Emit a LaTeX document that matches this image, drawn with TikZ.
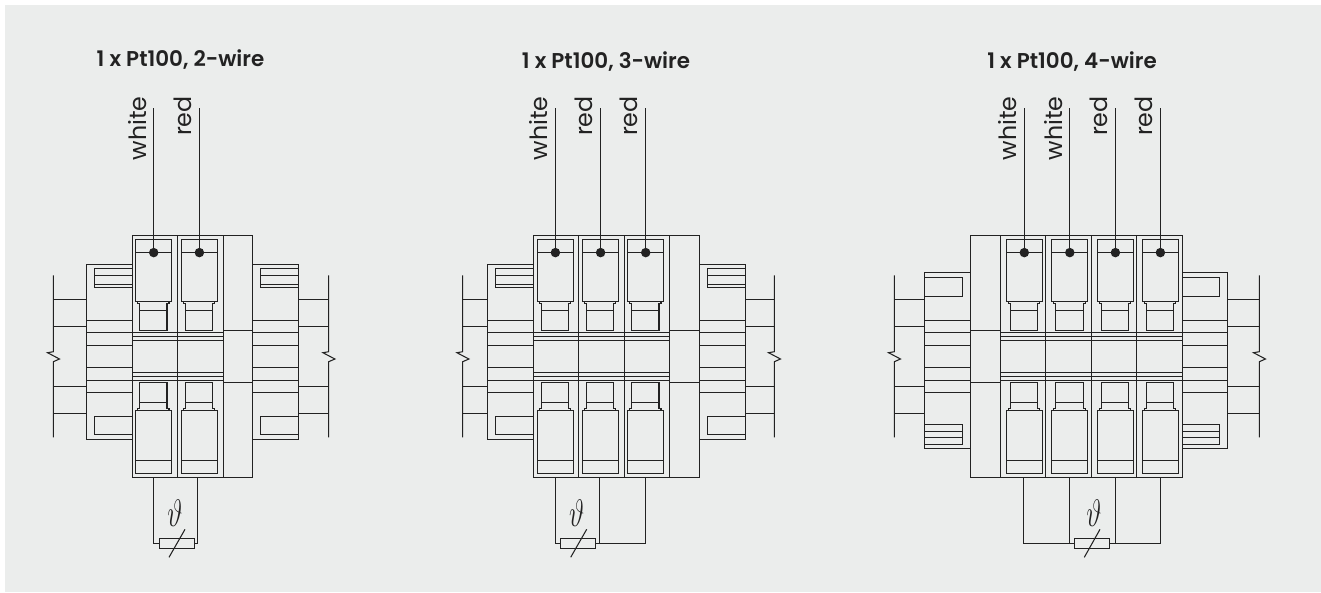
\documentclass[tikz,border=0pt]{standalone}
\usepackage{amsmath,amssymb}
\usepackage{fontspec}
\setmainfont{Poppins}
\newfontfamily\headfont{Poppins SemiBold}
\usetikzlibrary{calc}
\definecolor{panel}{HTML}{EBEDEC}
\definecolor{ink}{HTML}{222222}
\tikzset{
    part/.style={draw=ink,line width=0.6pt},
    tag/.style={rotate=90,anchor=east,inner sep=0pt,font=\fontsize{13.5}{13.5}\selectfont,text=ink},
    head/.style={inner sep=0pt,font=\headfont\fontsize{12.2}{13}\selectfont,text=ink},
    pin/.style={circle,fill=ink,inner sep=0pt,minimum size=5.4pt},
    sensor/.style={draw=ink,line width=0.6pt,fill=panel,inner sep=0pt,minimum width=20pt,minimum height=5.7pt}
}
\newcommand{\thetamark}{\scalebox{0.72}[1.05]{\fontsize{20}{20}\selectfont\(\vartheta\)}}
% one terminal, by the x of its wire
\newcommand{\terminal}[1]{
    \draw[part] (#1-18,239.3) rectangle (#1+18,301.7);
    \draw[part] (#1-18,252.3)--(#1+18,252.3);
    \draw[part] (#1-16,301.7)--(#1-16,303.7)--(#1-14,303.7)--(#1-14,330.4)--(#1+13.3,330.4)--(#1+13.3,303.7)--(#1+15.3,303.7)--(#1+15.3,301.7);
    \draw[part] (#1-14,310.3)--(#1+13.3,310.3);
    \draw[part] (#1-16,410.4)--(#1-16,408.4)--(#1-14,408.4)--(#1-14,382.7)--(#1+13.3,382.7)--(#1+13.3,408.4)--(#1+15.3,408.4)--(#1+15.3,410.4);
    \draw[part] (#1-14,402.3)--(#1+13.3,402.3);
    \draw[part] (#1-18,410.4) rectangle (#1+18,473.3);
    \draw[part] (#1-18,460.3)--(#1+18,460.3);
}
% rail: #1 x of rail, #2 x of wing edge
\newcommand{\rail}[2]{
    \draw[part] (#1,275.3)--(#1,351.7)--(#1-5.8,352.7)--(#1+6.2,359)--(#1,361.7)--(#1,437.3);
    \foreach \y in {299.5,326.4,386.3,413.4}
    {
        \draw[part] (#1,\y)--(#2,\y);
    }
}
% wing: #1 outer x, #2 inner x, #3 top, #4 bottom
\newcommand{\wing}[4]{
    \draw[part] (#2,#3)--(#1,#3)--(#1,#4)--(#2,#4);
    \foreach \y in {320.4,332.7,345.2,367.7,380.3,392.7}
    {
        \draw[part] (#1,\y)--(#2,\y);
    }
}
\begin{document}
\begin{tikzpicture}[x=0.02cm,y=-0.02cm]
    \useasboundingbox (0,0) rectangle (1321,592);
    \fill[panel] (5,5) rectangle (1321,592);

    % 2-wire
    \node[head] (title2) at (180.5,60) {1 x Pt100, 2-wire};
    \foreach \x/\n/\m in {153.7/white/a,199.4/red/b}
    {
        \node[tag] (tag\m) at (\x-16.5,96) {\n};
        \coordinate (top\m) at (\x,108.3);
        \node[pin] (pin\m) at (\x,252.6) {};
        \draw[part] (top\m)--(pin\m);
        \terminal{\x}
    }
    \draw[part] (132.3,235.3) rectangle (252.7,477.4);
    \draw[part] (177.3,235.3)--(177.3,477.4);
    \draw[part] (223.4,235.3)--(223.4,477.4);
    \draw[part] (223.4,330.4)--(252.7,330.4);
    \draw[part] (223.4,382.7)--(252.7,382.7);
    \foreach \y in {332.3,336.3,340.4,372.3,376.3,380.5}
    {
        \draw[part] (132.3,\y)--(223.4,\y);
    }
    \wing{86.3}{132.3}{264.4}{439.3}
    \wing{298.3}{252.7}{264.4}{439.3}
    \rail{53.3}{86.3}
    \rail{328.7}{298.3}
    \foreach \y in {268.4,275.7,284.3,287.7,416.3,434.3}
    {
        \draw[part] (94.3,\y)--(132.3,\y);
        \draw[part] (260.3,\y)--(298.3,\y);
    }
    \draw[part] (94.3,268.4)--(94.3,287.7);
    \draw[part] (94.3,416.3)--(94.3,434.3);
    \draw[part] (260.3,268.4)--(260.3,287.7);
    \draw[part] (260.3,416.3)--(260.3,434.3);
    \node[sensor] (rtdA) at (177,543.3) {};
    \draw[part] (rtdA.west)-|(153.3,477.4);
    \draw[part] (rtdA.east)-|(197.7,477.4);
    \draw[part] (169,557.3)--(185,529.3);
    \node[text=ink,inner sep=0pt] (varA) at (175,513) {\thetamark};

    % 3-wire
    \node[head] (title3) at (606,62) {1 x Pt100, 3-wire};
    \foreach \x/\n/\m in {555.4/white/c,600.6/red/d,645.7/red/e}
    {
        \node[tag] (tag\m) at (\x-16.5,96) {\n};
        \coordinate (top\m) at (\x,108.3);
        \node[pin] (pin\m) at (\x,252.6) {};
        \draw[part] (top\m)--(pin\m);
        \terminal{\x}
    }
    \draw[part] (533.3,235.3) rectangle (699.3,477.4);
    \foreach \x in {578.3,624.4,669.3}
    {
        \draw[part] (\x,235.3)--(\x,477.4);
    }
    \draw[part] (669.3,330.4)--(699.3,330.4);
    \draw[part] (669.3,382.7)--(699.3,382.7);
    \foreach \y in {332.3,336.3,340.4,372.3,376.3,380.5}
    {
        \draw[part] (533.3,\y)--(669.3,\y);
    }
    \wing{487.7}{533.3}{264.4}{439.3}
    \wing{745.3}{699.3}{264.4}{439.3}
    \rail{462.7}{487.7}
    \rail{774.3}{745.3}
    \foreach \y in {268.4,275.7,284.3,287.7,416.3,434.3}
    {
        \draw[part] (495.3,\y)--(533.3,\y);
        \draw[part] (707.4,\y)--(745.3,\y);
    }
    \draw[part] (495.3,268.4)--(495.3,287.7);
    \draw[part] (495.3,416.3)--(495.3,434.3);
    \draw[part] (707.4,268.4)--(707.4,287.7);
    \draw[part] (707.4,416.3)--(707.4,434.3);
    \node[sensor] (rtdB) at (578.3,543.3) {};
    \draw[part] (rtdB.west)-|(555.3,477.4);
    \draw[part] (599.4,477.4)--(599.4,543.3)--(645.7,543.3)--(645.7,477.4);
    \draw[part] (rtdB.east)--(599.4,543.3);
    \draw[part] (570.7,557.3)--(586.7,529.3);
    \node[text=ink,inner sep=0pt] (varB) at (576.7,513) {\thetamark};

    % 4-wire
    \node[head] (title4) at (1072,62) {1 x Pt100, 4-wire};
    \foreach \x/\n/\m in {1024.3/white/f,1069.8/white/g,1115.4/red/h,1160.4/red/i}
    {
        \node[tag] (tag\m) at (\x-16.5,96) {\n};
        \coordinate (top\m) at (\x,108.3);
        \node[pin] (pin\m) at (\x,252.6) {};
        \draw[part] (top\m)--(pin\m);
        \terminal{\x}
    }
    \draw[part] (970.3,235.3) rectangle (1182.4,477.4);
    \foreach \x in {1000.3,1045.3,1091.3,1136.7}
    {
        \draw[part] (\x,235.3)--(\x,477.4);
    }
    \draw[part] (970.3,330.3)--(1000.3,330.3);
    \draw[part] (970.3,382.3)--(1000.3,382.3);
    \foreach \y in {332.3,336.3,340.4,372.3,376.3,380.5}
    {
        \draw[part] (1000.3,\y)--(1182.4,\y);
    }
    \wing{924.3}{970.3}{272.7}{448.3}
    \wing{1227.3}{1182.4}{272.7}{448.3}
    \rail{894.3}{924.3}
    \rail{1259.3}{1227.3}
    \foreach \y in {277.7,296.3}
    {
        \draw[part] (924.3,\y)--(962.7,\y);
        \draw[part] (1182.4,\y)--(1219.7,\y);
    }
    \foreach \y in {424.7,431.7,437.3,444.7}
    {
        \draw[part] (924.3,\y)--(962.7,\y);
        \draw[part] (1182.4,\y)--(1219.7,\y);
    }
    \draw[part] (962.7,277.7)--(962.7,296.3);
    \draw[part] (962.7,424.7)--(962.7,444.7);
    \draw[part] (1219.7,277.7)--(1219.7,296.3);
    \draw[part] (1219.7,424.7)--(1219.7,444.7);
    \node[sensor] (rtdC) at (1092,543.3) {};
    \draw[part] (1069.3,477.4)--(1069.3,543.3)--(1023.7,543.3)--(1023.7,477.4);
    \draw[part] (rtdC.west)--(1069.3,543.3);
    \draw[part] (1115.4,477.4)--(1115.4,543.3)--(1160.3,543.3)--(1160.3,477.4);
    \draw[part] (rtdC.east)--(1115.4,543.3);
    \draw[part] (1084.3,557.3)--(1100,529.3);
    \node[text=ink,inner sep=0pt] (varC) at (1094,513) {\thetamark};
\end{tikzpicture}
\end{document}
